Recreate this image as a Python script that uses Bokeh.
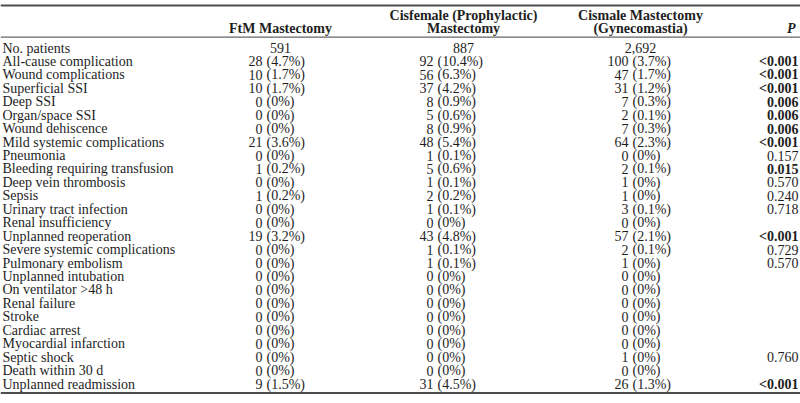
from bokeh.plotting import figure
from bokeh.models import Range1d
from bokeh.core.properties import value
from bokeh.embed import file_html
from bokeh.resources import INLINE

# ---------------- data ----------------
labels = [
    "No. patients", "All-cause complication", "Wound complications", "Superficial SSI",
    "Deep SSI", "Organ/space SSI", "Wound dehiscence", "Mild systemic complications",
    "Pneumonia", "Bleeding requiring transfusion", "Deep vein thrombosis", "Sepsis",
    "Urinary tract infection", "Renal insufficiency", "Unplanned reoperation",
    "Severe systemic complications", "Pulmonary embolism", "Unplanned intubation",
    "On ventilator >48 h", "Renal failure", "Stroke", "Cardiac arrest",
    "Myocardial infarction", "Septic shock", "Death within 30 d", "Unplanned readmission",
]
group_headers = [["FtM Mastectomy"],
                 ["Cisfemale (Prophylactic)", "Mastectomy"],
                 ["Cismale Mastectomy", "(Gynecomastia)"]]
p_header = "P"

ftm_n = [591, 28, 10, 10, 0, 0, 0, 21, 0, 1, 0, 1, 0, 0, 19, 0, 0, 0, 0, 0, 0, 0, 0, 0, 0, 9]
ftm_pct = [None, 4.7, 1.7, 1.7, 0, 0, 0, 3.6, 0, 0.2, 0, 0.2, 0, 0, 3.2, 0, 0, 0, 0, 0, 0, 0, 0, 0, 0, 1.5]
cisf_n = [887, 92, 56, 37, 8, 5, 8, 48, 1, 5, 1, 2, 1, 0, 43, 1, 1, 0, 0, 0, 0, 0, 0, 0, 0, 31]
cisf_pct = [None, 10.4, 6.3, 4.2, 0.9, 0.6, 0.9, 5.4, 0.1, 0.6, 0.1, 0.2, 0.1, 0, 4.8, 0.1, 0.1, 0, 0, 0, 0, 0, 0, 0, 0, 4.5]
cism_n = [2692, 100, 47, 31, 7, 2, 7, 64, 0, 2, 1, 1, 3, 0, 57, 2, 1, 0, 0, 0, 0, 0, 0, 1, 0, 26]
cism_pct = [None, 3.7, 1.7, 1.2, 0.3, 0.1, 0.3, 2.3, 0, 0.1, 0, 0, 0.1, 0, 2.1, 0.1, 0, 0, 0, 0, 0, 0, 0, 0, 0, 1.3]
p_values = ["", "<0.001", "<0.001", "<0.001", "0.006", "0.006", "0.006", "<0.001", "0.157",
            "0.015", "0.570", "0.240", "0.718", "", "<0.001", "0.729", "0.570", "", "", "",
            "", "", "", "0.760", "", "<0.001"]

# ---------------- layout ----------------
W, H = 800, 403
FONT = value("Liberation Serif")
FS = "14px"
TXT = "#1e1e1e"
row_y0, row_step = 47.5, 13.44
label_x = 2
col_center = [280, 463, 640]
col_count_right = [262, 433, 628]
paren_gap = 4
p_right = 798
head_y = [14.5, 27.5]

p = figure(width=W, height=H, output_backend="svg", toolbar_location=None,
           x_range=Range1d(0, W), y_range=Range1d(0, H),
           min_border=0, min_border_left=0, min_border_right=0,
           min_border_top=0, min_border_bottom=0)
p.axis.visible = False
p.grid.visible = False
p.outline_line_color = None
p.background_fill_color = "white"
p.border_fill_color = "white"

def fy(y):  # top-down layout coordinate -> figure coordinate
    return H - y

def fmt_pct(v):
    return "(0%)" if v == 0 else f"({v:.1f}%)"

ys = [fy(row_y0 + i * row_step) for i in range(len(labels))]

# rules: top, under header, bottom
p.rect(x=[W / 2], y=[fy(5.0)], width=W, height=2.2, fill_color="#4d4d4d", line_color=None)
p.rect(x=[W / 2], y=[fy(36.6)], width=W, height=1.3, fill_color="#666666", line_color=None)
p.rect(x=[W / 2], y=[fy(392.5)], width=W, height=2, fill_color="#4d4d4d", line_color=None)

# labels
p.text(x=[label_x] * len(labels), y=ys, text=labels, text_font=FONT, text_font_size=FS,
       text_color=TXT, text_align="left", text_baseline="middle")

# group columns
for gi, (ns, pcts) in enumerate([(ftm_n, ftm_pct), (cisf_n, cisf_pct), (cism_n, cism_pct)]):
    p.text(x=[col_center[gi]], y=[ys[0]], text=[f"{ns[0]:,}"], text_font=FONT,
           text_font_size=FS, text_color=TXT, text_align="center", text_baseline="middle")
    cnt = [str(n) for n in ns[1:]]
    pc = [fmt_pct(v) for v in pcts[1:]]
    p.text(x=[col_count_right[gi]] * len(cnt), y=ys[1:], text=cnt, text_font=FONT,
           text_font_size=FS, text_color=TXT, text_align="right", text_baseline="middle")
    p.text(x=[col_count_right[gi] + paren_gap] * len(pc), y=ys[1:], text=pc, text_font=FONT,
           text_font_size=FS, text_color=TXT, text_align="left", text_baseline="middle")
    lines = group_headers[gi]
    hy = [fy(v) for v in head_y[-len(lines):]]
    p.text(x=[col_center[gi]] * len(lines), y=hy, text=lines, text_font=FONT,
           text_font_size=FS, text_font_style="bold", text_color=TXT,
           text_align="center", text_baseline="middle")

# P column
p.text(x=[p_right - 3], y=[fy(head_y[1])], text=[p_header], text_font=FONT, text_font_size=FS,
       text_font_style="bold italic", text_color=TXT, text_align="right", text_baseline="middle")

def is_sig(s):
    if s.startswith("<"):
        return True
    return s != "" and float(s) < 0.05

bold_y = [ys[i] for i, s in enumerate(p_values) if s and is_sig(s)]
bold_t = [s for s in p_values if s and is_sig(s)]
norm_y = [ys[i] for i, s in enumerate(p_values) if s and not is_sig(s)]
norm_t = [s for s in p_values if s and not is_sig(s)]
p.text(x=[p_right] * len(bold_t), y=bold_y, text=bold_t, text_font=FONT, text_font_size=FS,
       text_font_style="bold", text_color=TXT, text_align="right", text_baseline="middle")
p.text(x=[p_right] * len(norm_t), y=norm_y, text=norm_t, text_font=FONT, text_font_size=FS,
       text_color=TXT, text_align="right", text_baseline="middle")

open("out.html", "w").write(file_html(p, INLINE))
